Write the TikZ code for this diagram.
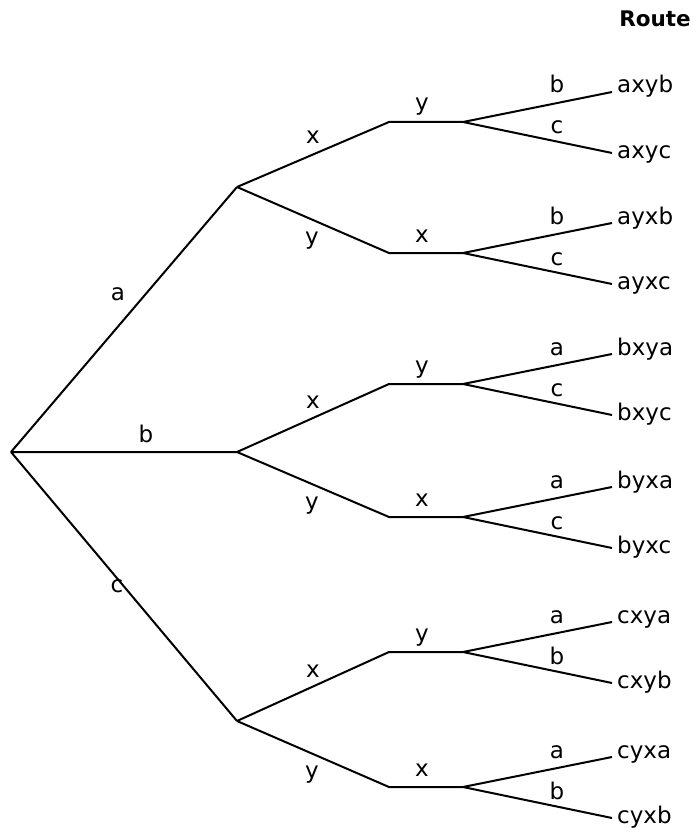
\documentclass[tikz,border=0pt]{standalone}
\usepackage{fontspec}
\setmainfont{DejaVu Sans}
\begin{document}
\begin{tikzpicture}[x=1pt,y=-1pt,
  edge/.style={line width=2pt},
  lbl/.style={anchor=base, inner sep=0pt, font=\fontsize{23}{27}\selectfont},
  leaf/.style={anchor=base west, inner sep=0pt, font=\fontsize{23}{27}\selectfont}]
\useasboundingbox (0,0) rectangle (693,832);

% heading
\node[anchor=base, inner sep=0pt, font=\fontsize{21.5}{26}\selectfont\bfseries] (head) at (655,27) {Route};

% root and first stage
\coordinate (r) at (11,452);
\coordinate (a) at (237,187);
\coordinate (b) at (237,452);
\coordinate (c) at (237,721);
\draw[edge] (r) -- (a) (r) -- (b) (r) -- (c);
\node[lbl] (la) at (118,300) {a};
\node[lbl] (lb) at (146,442) {b};
\node[lbl] (lc) at (117,592) {c};

% labels on the second-stage diagonals
\foreach \p/\L in {a/187,b/452,c/721}{
  \node[lbl] (\p-lx) at (313,\L-44) {x};
  \node[lbl] (\p-ly) at (312,\L+57) {y};
}

% second and third stages
\foreach \n/\p/\J/\d/\e/\s/\t in {
  ax/a/122/x/y/b/c, ay/a/253/y/x/b/c,
  bx/b/384/x/y/a/c, by/b/517/y/x/a/c,
  cx/c/652/x/y/a/b, cy/c/787/y/x/a/b}{
  \coordinate (\n-s) at (389,\J);
  \coordinate (\n-e) at (463,\J);
  \coordinate (\n-u) at (612,\J-30);
  \coordinate (\n-d) at (612,\J+31);
  \draw[edge] (\p) -- (\n-s) -- (\n-e) -- (\n-u) (\n-e) -- (\n-d);
  \node[lbl] (\n-lh) at (422,\J-11) {\e};
  \node[lbl] (\n-lu) at (557,\J-29) {\s};
  \node[lbl] (\n-ld) at (557,\J+12) {\t};
  \node[leaf] (\n-fu) at (617,\J-29) {\p\d\e\s};
  \node[leaf] (\n-fd) at (617,\J+36) {\p\d\e\t};
}
\end{tikzpicture}
\end{document}
